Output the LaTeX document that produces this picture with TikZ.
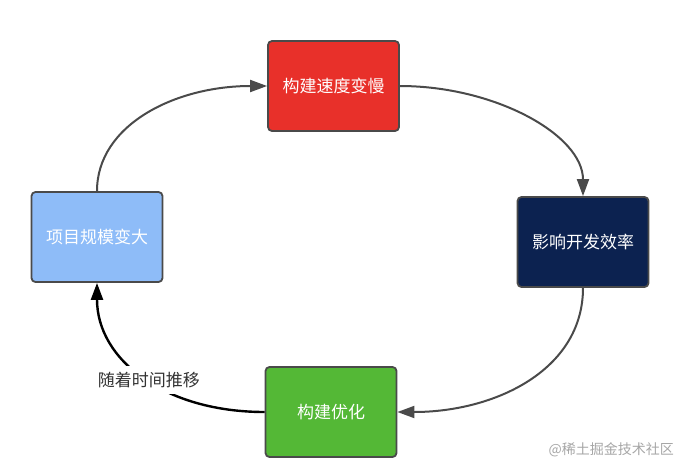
\documentclass[tikz,border=0pt]{standalone}
\usepackage{fontspec}
\setmainfont{Noto Sans CJK SC}
\usetikzlibrary{arrows.meta, positioning}
\definecolor{boxred}{HTML}{E8302A}
\definecolor{boxnavy}{HTML}{0C2250}
\definecolor{boxgreen}{HTML}{54B836}
\definecolor{boxblue}{HTML}{8EBCF8}
\definecolor{edgegray}{HTML}{4A4A4A}
\tikzset{
  stagenode/.style={
    rectangle, rounded corners=4pt,
    draw=edgegray, line width=1.8pt,
    minimum width=131pt, minimum height=90pt,
    text=white, font=\fontsize{17}{20}\selectfont,
    inner sep=2pt
  },
  flowarrow/.style={-{Triangle[length=17pt,width=12pt]}, line width=2pt, edgegray}
}

\begin{document}
\begin{tikzpicture}[x=1pt, y=-1pt]
    \useasboundingbox (0,0) rectangle (694,472);
    \node[stagenode, fill=boxred] (slow) at (333.5,86) {构建速度变慢};
    \node[stagenode, fill=boxnavy] (effect) at (583,242) {影响开发效率};
    \node[stagenode, fill=boxgreen] (optim) at (331,412) {构建优化};
    \node[stagenode, fill=boxblue] (grow) at (97,237) {项目规模变大};
    \draw[flowarrow] (grow.north) .. controls (97,125) and (175,86) .. (slow.west);
    \draw[flowarrow] (slow.east) .. controls (495,86) and (583,135) .. (effect.north);
    \draw[flowarrow] (effect.south) .. controls (583,370) and (495,412) .. (optim.east);
    \draw[flowarrow, black, line width=2.4pt] (optim.west) .. controls (165,412) and (97,360) .. (grow.south)
      node[pos=0.47, fill=white, text=black!80, inner sep=6pt, font=\fontsize{17}{20}\selectfont] (timelabel) {随着时间推移};
    \node[text=gray!70, font=\fontsize{14}{16}\selectfont, anchor=west] (mark) at (545,450) {@稀土掘金技术社区};
\end{tikzpicture}
\end{document}
